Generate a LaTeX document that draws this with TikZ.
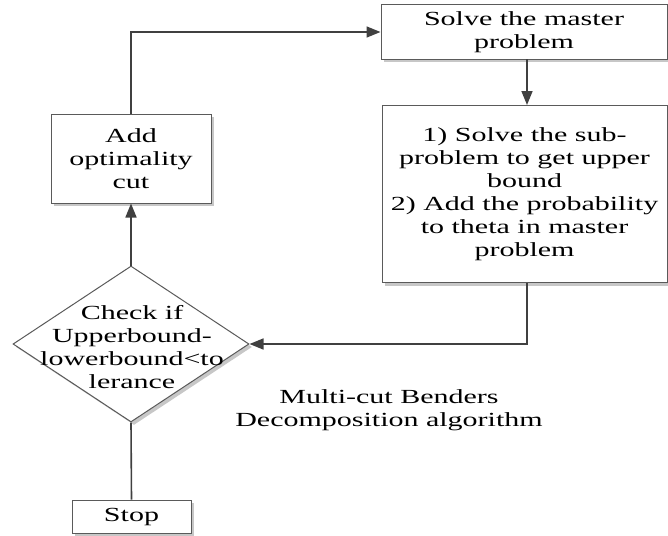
\documentclass[tikz,border=0pt]{standalone}
\usepackage{fontspec}
\setmainfont{Liberation Serif}[FakeStretch=1.5]
\usetikzlibrary{arrows.meta,shapes.geometric,shadows}
\definecolor{linec}{HTML}{404040}
\definecolor{boxc}{HTML}{5A5A5A}
\tikzset{
  txt/.style={font=\fontsize{20}{23}\selectfont, align=center, text=black},
  shd/.style={drop shadow={shadow xshift=3pt, shadow yshift=-3pt, fill=black!22, opacity=1}},
  boxnode/.style={draw=boxc, line width=1pt, fill=white, shd, inner sep=0pt, txt},
  conn/.style={draw=linec, line width=1.6pt},
  arr/.style={conn, -{Triangle[length=14pt,width=11pt]}}
}
\begin{document}
\begin{tikzpicture}[x=1pt,y=-1pt]
\useasboundingbox (0,0) rectangle (668,535);
\node[boxnode, minimum width=160pt, minimum height=89pt] (add) at (131,158.5) {Add\\optimality\\cut};
\node[boxnode, minimum width=286pt, minimum height=54pt] (master) at (524,32) {Solve the master\\problem};
\node[boxnode, minimum width=285pt, minimum height=177pt] (sub) at (524.5,194) {1) Solve the sub-\\problem to get upper\\bound\\2) Add the probability\\to theta in master\\problem};
\node[diamond, draw=boxc, line width=1pt, fill=white, shd, inner sep=0pt, minimum width=236pt, minimum height=156pt] (chk) at (131,344) {};
\node[txt] (chktext) at (132,347) {Check if\\Upperbound-\\lowerbound<to\\lerance};
\node[boxnode, minimum width=119pt, minimum height=33pt] (stop) at (131.5,516.5) {Stop};
\node[txt] (note) at (389,410) {Multi-cut Benders\\Decomposition algorithm};
\coordinate (c1) at (131,32);
\coordinate (m1) at (527,59);
\coordinate (s1) at (527,105);
\coordinate (s2) at (527,283);
\coordinate (c2) at (527,344);
\draw[arr] (add.north) -- (c1) -- (master.west);
\draw[arr] (m1) -- (s1);
\draw[arr] (s2) -- (c2) -- (chk.east);
\draw[arr] (chk.north) -- (add.south);
\draw[conn] (chk.south) -- (stop.north);
\end{tikzpicture}
\end{document}
